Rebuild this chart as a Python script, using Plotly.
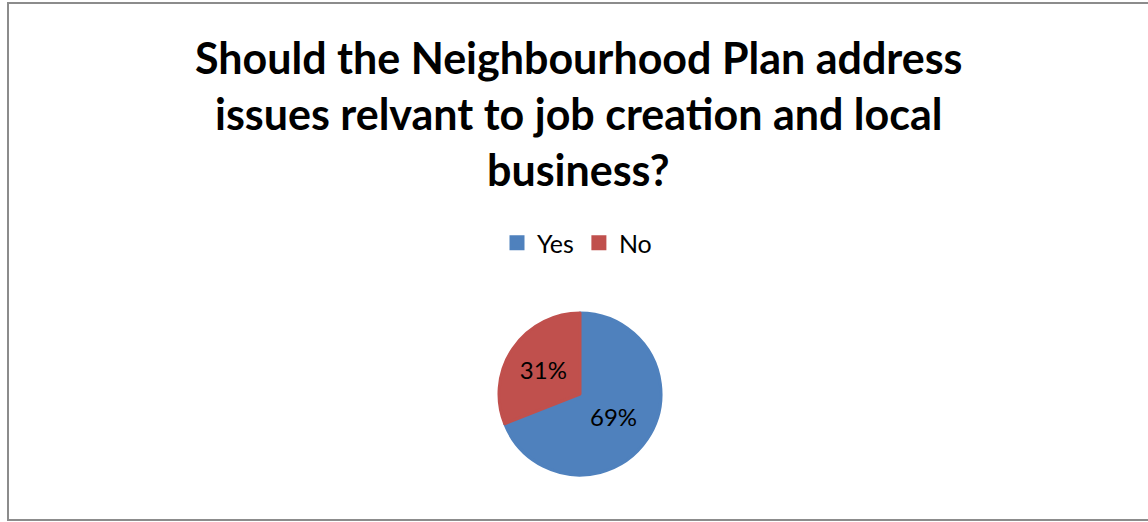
import plotly.graph_objects as go

# Survey answers and their shares (percent)
answers = ["Yes", "No"]
shares = [69, 31]
slice_colors = ["#4F81BD", "#C0504D"]

title_lines = [
    "Should the Neighbourhood Plan address",
    "issues relvant to job creation and local",
    "business?",
]

W, H = 1148, 522
FONT = "Lato, Carlito, Calibri, sans-serif"

# Pie centre and radius in pixels
cx, cy, r = 580, 394, 81

fig = go.Figure(
    go.Pie(
        labels=answers,
        values=shares,
        sort=False,
        direction="clockwise",
        rotation=0,
        # outline in the slice's own colour also enlarges the legend swatch
        marker=dict(colors=slice_colors, line=dict(color=slice_colors, width=3)),
        texttemplate="%{percent:.0%}",
        textposition="inside",
        insidetextorientation="horizontal",
        textfont=dict(family=FONT, size=24, color="black"),
        hoverinfo="label+percent",
        domain=dict(
            x=[(cx - r) / W, (cx + r) / W],
            y=[1 - (cy + r) / H, 1 - (cy - r) / H],
        ),
    )
)

# Title, one annotation per line
line_centres = [57, 113, 170]
for text, yc in zip(title_lines, line_centres):
    fig.add_annotation(
        text=f"<b>{text}</b>",
        x=0.5 + 4 / W,
        y=1 - yc / H,
        xref="paper",
        yref="paper",
        xanchor="center",
        yanchor="middle",
        showarrow=False,
        font=dict(family=FONT, size=43, color="black"),
    )

# Chart frame (open on the right)
fig.add_shape(
    type="rect",
    xref="paper",
    yref="paper",
    x0=8 / W,
    x1=1.01,
    y0=1 - 520 / H,
    y1=1 - 3 / H,
    line=dict(color="#8C8C8C", width=2),
    layer="below",
)

fig.update_layout(
    width=W,
    height=H,
    margin=dict(l=0, r=0, t=0, b=0),
    paper_bgcolor="white",
    plot_bgcolor="white",
    showlegend=True,
    legend=dict(
        orientation="h",
        x=0.5 + 3 / W,
        xanchor="center",
        y=1 - 243 / H,
        yanchor="middle",
        font=dict(family=FONT, size=25, color="black"),
        itemwidth=30,
        traceorder="normal",
    ),
)

fig.write_html("out.html")
